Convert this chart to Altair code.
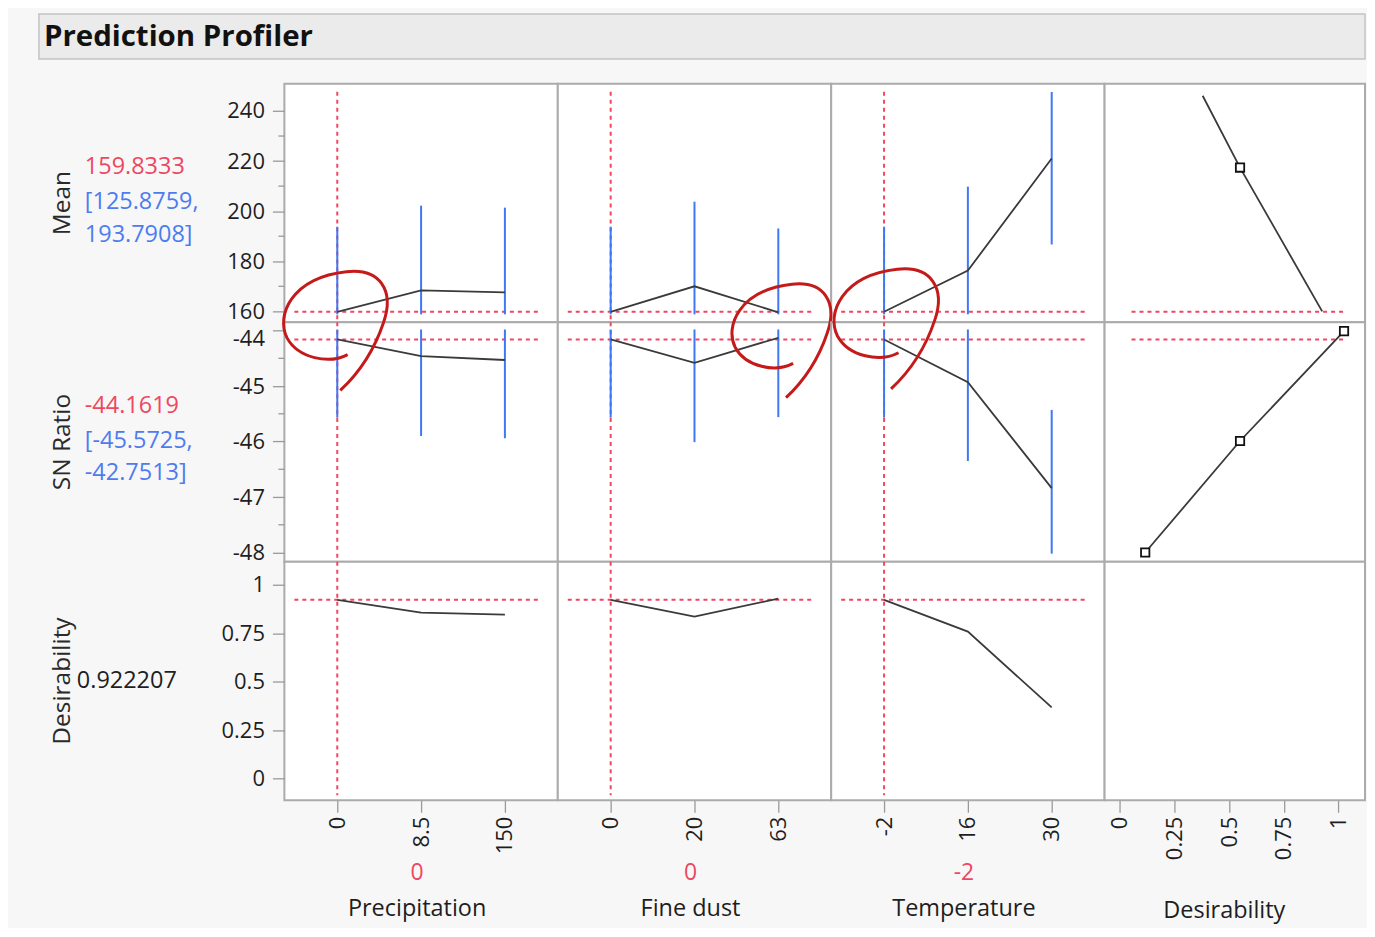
import altair as alt
import pandas as pd

# ---------------- data ----------------
factor_names = ["Precipitation", "Fine dust", "Temperature"]
precip_levels = ["0", "8.5", "150"]
dust_levels = ["0", "20", "63"]
temp_levels = ["-2", "16", "30"]
current_levels = ["0", "0", "-2"]

mean_precip = [159.83, 168.4, 167.6]
mean_precip_lo = [125.88, 134.6, 133.8]
mean_precip_hi = [193.79, 202.2, 201.4]
mean_dust = [159.83, 170.0, 159.6]
mean_dust_lo = [125.88, 136.2, 126.1]
mean_dust_hi = [193.79, 203.8, 193.1]
mean_temp = [159.83, 176.3, 221.0]
mean_temp_lo = [125.88, 142.8, 186.7]
mean_temp_hi = [193.79, 209.8, 255.3]

sn_precip = [-44.16, -44.46, -44.53]
sn_precip_lo = [-45.57, -45.90, -45.94]
sn_precip_hi = [-42.75, -43.02, -43.12]
sn_dust = [-44.16, -44.58, -44.13]
sn_dust_lo = [-45.57, -46.01, -45.56]
sn_dust_hi = [-42.75, -43.15, -42.70]
sn_temp = [-44.16, -44.93, -46.84]
sn_temp_lo = [-45.57, -46.35, -48.25]
sn_temp_hi = [-42.75, -43.51, -45.43]

desir_precip = [0.922, 0.856, 0.846]
desir_dust = [0.922, 0.835, 0.928]
desir_temp = [0.922, 0.758, 0.367]

mean_fn_desir = [0.379, 0.55, 0.926]
mean_fn_value = [246.1, 217.4, 160.0]
mean_fn_marker = [False, True, False]
sn_fn_desir = [0.116, 0.55, 1.026]
sn_fn_value = [-48.0, -45.99, -44.01]
sn_fn_marker = [True, True, True]

current_mean = 159.8333
current_mean_ci = [125.8759, 193.7908]
current_sn = -44.1619
current_sn_ci = [-45.5725, -42.7513]
current_desir = 0.922207

mean_ticks = [160, 180, 200, 220, 240]
mean_minor = [170, 190, 210, 230]
sn_ticks = [-44, -45, -46, -47, -48]
sn_minor = [-44.5, -45.5, -46.5, -47.5]
desir_ticks = [0, 0.25, 0.5, 0.75, 1]

row_names = ["Mean", "SN Ratio", "Desirability"]
circle_levels = ["0", "63", "-2"]
circle_sn = [-44.0, -44.0, -44.0]

# ---------------- style / layout ----------------
FONT = "Open Sans"
RED = "#ef4760"
BLUE = "#3f78f5"
TXT_BLUE = "#4d7cf0"
LINE = "#3a3a3a"
BORDER = "#ababab"
TICK = "#9a9a9a"
INK = "#1e1e1e"
CIRC = "#c41a1a"

COL_W = [274, 274, 274, 261]
ROW_H = [239, 240, 239]
PT_PAD = 0.631
ROW_DOMAIN = [[155.62, 250.84], [-48.167, -43.851], [-0.112, 1.118]]
ROW_CLIP = [[158.8, 247.6], [-48.02, -43.98], [-0.112, 1.118]]
DES_DOMAIN = [-0.070, 1.122]

LEVELS = [precip_levels, dust_levels, temp_levels]
PRED = [[mean_precip, mean_dust, mean_temp],
        [sn_precip, sn_dust, sn_temp],
        [desir_precip, desir_dust, desir_temp]]
LO = [[mean_precip_lo, mean_dust_lo, mean_temp_lo], [sn_precip_lo, sn_dust_lo, sn_temp_lo]]
HI = [[mean_precip_hi, mean_dust_hi, mean_temp_hi], [sn_precip_hi, sn_dust_hi, sn_temp_hi]]
CURRENT = [current_mean, current_sn, current_desir]
TICKS = [mean_ticks, sn_ticks, desir_ticks]
MINOR = [mean_minor, sn_minor, []]

CIRCLE_PATH = ("M0.2,0.42 C-0.1,0.58 -0.6,0.48 -0.78,0.15 "
               "C-0.96,-0.2 -0.72,-0.82 0.18,-0.92 "
               "C0.72,-0.98 0.96,-0.62 0.78,-0.1 "
               "C0.62,0.38 0.38,0.72 0.08,1.0")
CIRCLE_STYLE = [dict(xOffset=-2, yOffset=-2, size=15376),
                dict(xOffset=3, yOffset=8, size=14000),
                dict(xOffset=2, yOffset=-4, size=15600)]


def txt(text, x, y, size=22, color=INK, align="left", angle=0, weight="normal"):
    kw = dict(font=FONT, fontSize=size, color=color, align=align,
              baseline="middle", fontWeight=weight)
    if angle:
        kw["angle"] = angle
    return alt.Chart(pd.DataFrame({"t": [text]})).mark_text(**kw).encode(
        x=alt.value(x), y=alt.value(y), text="t:N")


def y_axis(ri):
    kw = dict(values=TICKS[ri], domain=False, grid=False, tickColor=TICK,
              tickSize=12, tickWidth=1.3, labelFont=FONT, labelFontSize=22,
              labelColor=INK, labelPadding=8, labelExpr="'' + datum.value",
              labelOverlap=False, labelFlush=False)
    if ri == 1:
        kw["labelOffset"] = {"condition": {"test": "datum.value === -44", "value": 8}, "value": 0}
    return alt.Axis(**kw)


def x_axis(values=None):
    kw = dict(domain=False, grid=False, tickColor=TICK, tickSize=12, tickWidth=1.3,
              labelFont=FONT, labelFontSize=22, labelColor=INK, labelPadding=4,
              labelAngle=270, labelOverlap=False, labelFlush=False)
    if values is not None:
        kw["values"] = values
        kw["labelExpr"] = "'' + datum.value"
    return alt.Axis(**kw)


def left_texts(ri):
    h = ROW_H[ri]
    out = [txt(row_names[ri], -222, h / 2, size=24.5, color="#2a2a2a", align="center", angle=270)]
    vs = 23.5
    if ri == 0:
        out += [txt(f"{current_mean:.4f}", -200, 83, size=vs, color=RED),
                txt(f"[{current_mean_ci[0]:.4f},", -200, 118, size=vs, color=TXT_BLUE),
                txt(f"{current_mean_ci[1]:.4f}]", -200, 151, size=vs, color=TXT_BLUE)]
    elif ri == 1:
        out += [txt(f"{current_sn:.4f}", -200, 84, size=vs, color=RED),
                txt(f"[{current_sn_ci[0]:.4f},", -200, 119, size=vs, color=TXT_BLUE),
                txt(f"{current_sn_ci[1]:.4f}]", -200, 151, size=vs, color=TXT_BLUE)]
    else:
        out += [txt(f"{current_desir:.6f}", -208, 119, size=vs, color=INK)]
    return out


def factor_panel(ri, fi):
    levels = LEVELS[fi]
    w, h = COL_W[fi], ROW_H[ri]
    xs = alt.Scale(type="point", domain=levels, padding=PT_PAD)
    ys = alt.Scale(domain=ROW_DOMAIN[ri], zero=False, nice=False)
    xax = x_axis() if ri == 2 else None
    yax = y_axis(ri) if fi == 0 else None
    X = alt.X("level:O", scale=xs, axis=xax, title=None)

    layers = []
    if ri == 0 and fi == 0:
        # full-chart extent (invisible) and the report title bar
        layers.append(alt.Chart(pd.DataFrame({"a": [0]})).mark_rect(opacity=0).encode(
            x=alt.value(-276), x2=alt.value(1083), y=alt.value(-74), y2=alt.value(844)))
        layers.append(alt.Chart(pd.DataFrame({"a": [0]})).mark_rect(
            fill="#ebebeb", stroke="#c4c4c4", strokeWidth=1.5).encode(
            x=alt.value(-246), x2=alt.value(1083), y=alt.value(-70), y2=alt.value(-25)))
        layers.append(txt("Prediction Profiler", -241, -47, size=29.5, color="#111", weight="bold"))

    # current factor setting (vertical) and current response (horizontal)
    top = 8 if ri == 0 else 0
    bot = h - 5 if ri == 2 else h
    layers.append(alt.Chart(pd.DataFrame({"level": [current_levels[fi]]})).mark_rule(
        color=RED, strokeWidth=2, strokeDash=[4, 4]).encode(
        x=X, y=alt.value(top), y2=alt.value(bot)))
    layers.append(alt.Chart(pd.DataFrame({"v": [CURRENT[ri]]})).mark_rule(
        color=RED, strokeWidth=2, strokeDash=[4, 4]).encode(
        y=alt.Y("v:Q", scale=ys, axis=yax, title=None),
        x=alt.value(10), x2=alt.value(w - 16)))

    if ri < 2:
        cmin, cmax = ROW_CLIP[ri]
        dfe = pd.DataFrame({"level": levels, "lo": LO[ri][fi], "hi": HI[ri][fi]})
        layers.append(alt.Chart(dfe).transform_calculate(
            lo_c=f"clamp(datum.lo, {cmin}, {cmax})",
            hi_c=f"clamp(datum.hi, {cmin}, {cmax})").mark_rule(
            color=BLUE, strokeWidth=2).encode(
            x=X, y=alt.Y("lo_c:Q", scale=ys, axis=yax, title=None), y2="hi_c:Q"))

    dfl = pd.DataFrame({"level": levels, "pred": PRED[ri][fi]})
    layers.append(alt.Chart(dfl).mark_line(color=LINE, strokeWidth=1.8).encode(
        x=X, y=alt.Y("pred:Q", scale=ys, axis=yax, title=None)))

    if fi == 0:
        if MINOR[ri]:
            layers.append(alt.Chart(pd.DataFrame({"m": MINOR[ri]})).mark_rule(
                color=TICK, strokeWidth=1.3).encode(
                y=alt.Y("m:Q", scale=ys, axis=yax, title=None),
                x=alt.value(-6), x2=alt.value(0)))
        layers += left_texts(ri)

    if ri == 1:
        st = CIRCLE_STYLE[fi]
        layers.append(alt.Chart(pd.DataFrame({"level": [circle_levels[fi]], "v": [circle_sn[fi]]})).mark_point(
            shape=CIRCLE_PATH, filled=False, stroke=CIRC, strokeWidth=3, opacity=1,
            size=st["size"], xOffset=st["xOffset"], yOffset=st["yOffset"]).encode(
            x=X, y=alt.Y("v:Q", scale=ys, axis=yax, title=None)))

    if ri == 2:
        layers.append(txt(current_levels[fi], 133, h + 73, size=23, color=RED, align="center"))
        layers.append(txt(factor_names[fi], 133, h + 109, size=23.5, color=INK, align="center"))

    return alt.layer(*layers).properties(width=w, height=h)


def desir_panel(ri):
    w, h = COL_W[3], ROW_H[ri]
    xs = alt.Scale(domain=DES_DOMAIN, zero=False, nice=False)
    if ri == 2:
        X = alt.X("d:Q", scale=xs, axis=x_axis(desir_ticks), title=None)
        layers = [alt.Chart(pd.DataFrame({"d": desir_ticks})).mark_point(opacity=0).encode(x=X),
                  txt("Desirability", 120, h + 111, size=23.5, color=INK, align="center")]
        return alt.layer(*layers).properties(width=w, height=h)

    X = alt.X("d:Q", scale=xs, axis=None, title=None)
    ys = alt.Scale(domain=ROW_DOMAIN[ri], zero=False, nice=False)
    if ri == 0:
        df = pd.DataFrame({"d": mean_fn_desir, "v": mean_fn_value, "m": mean_fn_marker})
    else:
        df = pd.DataFrame({"d": sn_fn_desir, "v": sn_fn_value, "m": sn_fn_marker})
    Y = alt.Y("v:Q", scale=ys, axis=None, title=None)
    layers = [
        alt.Chart(pd.DataFrame({"v": [CURRENT[ri]]})).mark_rule(
            color=RED, strokeWidth=2, strokeDash=[4, 4]).encode(
            y=Y, x=alt.value(27), x2=alt.value(242)),
        alt.Chart(df).mark_line(color=LINE, strokeWidth=1.8).encode(x=X, y=Y),
        alt.Chart(df).transform_filter("datum.m").mark_point(
            shape="square", filled=True, fill="white", stroke="#111", strokeWidth=1.8,
            size=70, opacity=1).encode(x=X, y=Y),
    ]
    return alt.layer(*layers).properties(width=w, height=h)


panels = []
for ri in range(3):
    for fi in range(3):
        panels.append(factor_panel(ri, fi))
    panels.append(desir_panel(ri))

chart = alt.concat(*panels, columns=4, spacing=0, bounds="flush", align="each").properties(
    padding=0, background="#f7f7f7"
).configure_view(fill="white", stroke=BORDER, strokeWidth=2)

chart.save("out.html", embed_options={"renderer": "svg", "actions": False})
